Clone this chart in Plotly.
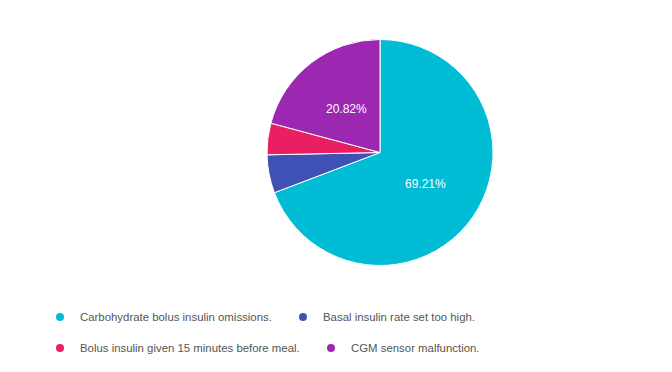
import math
import plotly.graph_objects as go

categories = [
    "Carbohydrate bolus insulin omissions.",
    "Basal insulin rate set too high.",
    "Bolus insulin given 15 minutes before meal.",
    "CGM sensor malfunction.",
]
values = [69.21, 5.46, 4.51, 20.82]
colors = ["#00BCD4", "#3F51B5", "#E91E63", "#9C27B0"]
slice_labels = ["69.21%", "", "", "20.82%"]

W, H = 672, 372
cx, cy, r = 380, 152.5, 113

fig = go.Figure()
fig.add_trace(go.Pie(
    labels=categories,
    values=values,
    textinfo="none",
    marker=dict(colors=colors, line=dict(color="white", width=1)),
    sort=False,
    direction="clockwise",
    rotation=0,
    showlegend=False,
    hoverinfo="label+percent",
    domain=dict(x=[(cx - r) / W, (cx + r) / W], y=[1 - (cy + r) / H, 1 - (cy - r) / H]),
))

# slice labels placed at half radius along each slice's mid-angle (Google Charts style)
total = sum(values)
cum = 0.0
for v, lab in zip(values, slice_labels):
    mid = (cum + v / 2) / total * 2 * math.pi
    cum += v
    if not lab:
        continue
    px = cx + 0.49 * r * math.sin(mid)
    py = cy - 0.49 * r * math.cos(mid)
    fig.add_annotation(x=px / W, y=1 - py / H, xref="paper", yref="paper", text=lab,
                       showarrow=False, xanchor="center", yanchor="middle",
                       font=dict(family="Liberation Sans, Arial", size=12, color="white"))

legend_of = ["legend", "legend", "legend2", "legend2"]
for name, col, lg in zip(categories, colors, legend_of):
    fig.add_trace(go.Scatter(
        x=[None], y=[None], mode="markers", name=name,
        marker=dict(color=col, size=8, symbol="circle"),
        legend=lg, showlegend=True, hoverinfo="skip",
    ))

legend_font = dict(family="Liberation Sans, Arial", size=11.4, color="#555555")
fig.update_layout(
    width=W, height=H,
    margin=dict(l=0, r=0, t=0, b=0),
    paper_bgcolor="white", plot_bgcolor="white",
    xaxis=dict(visible=False), yaxis=dict(visible=False),
    legend=dict(orientation="h", x=40 / W, xanchor="left", y=1 - 317 / H, yanchor="middle",
                entrywidth=198, entrywidthmode="pixels",
                font=legend_font, bgcolor="rgba(0,0,0,0)", itemclick=False, itemdoubleclick=False),
    legend2=dict(orientation="h", x=40 / W, xanchor="left", y=1 - 348 / H, yanchor="middle",
                 entrywidth=226, entrywidthmode="pixels",
                 font=legend_font, bgcolor="rgba(0,0,0,0)", itemclick=False, itemdoubleclick=False),
)

fig.write_html("out.html", config={"displayModeBar": False},
               post_script="document.body.style.margin='0px';document.body.style.overflow='hidden';")
